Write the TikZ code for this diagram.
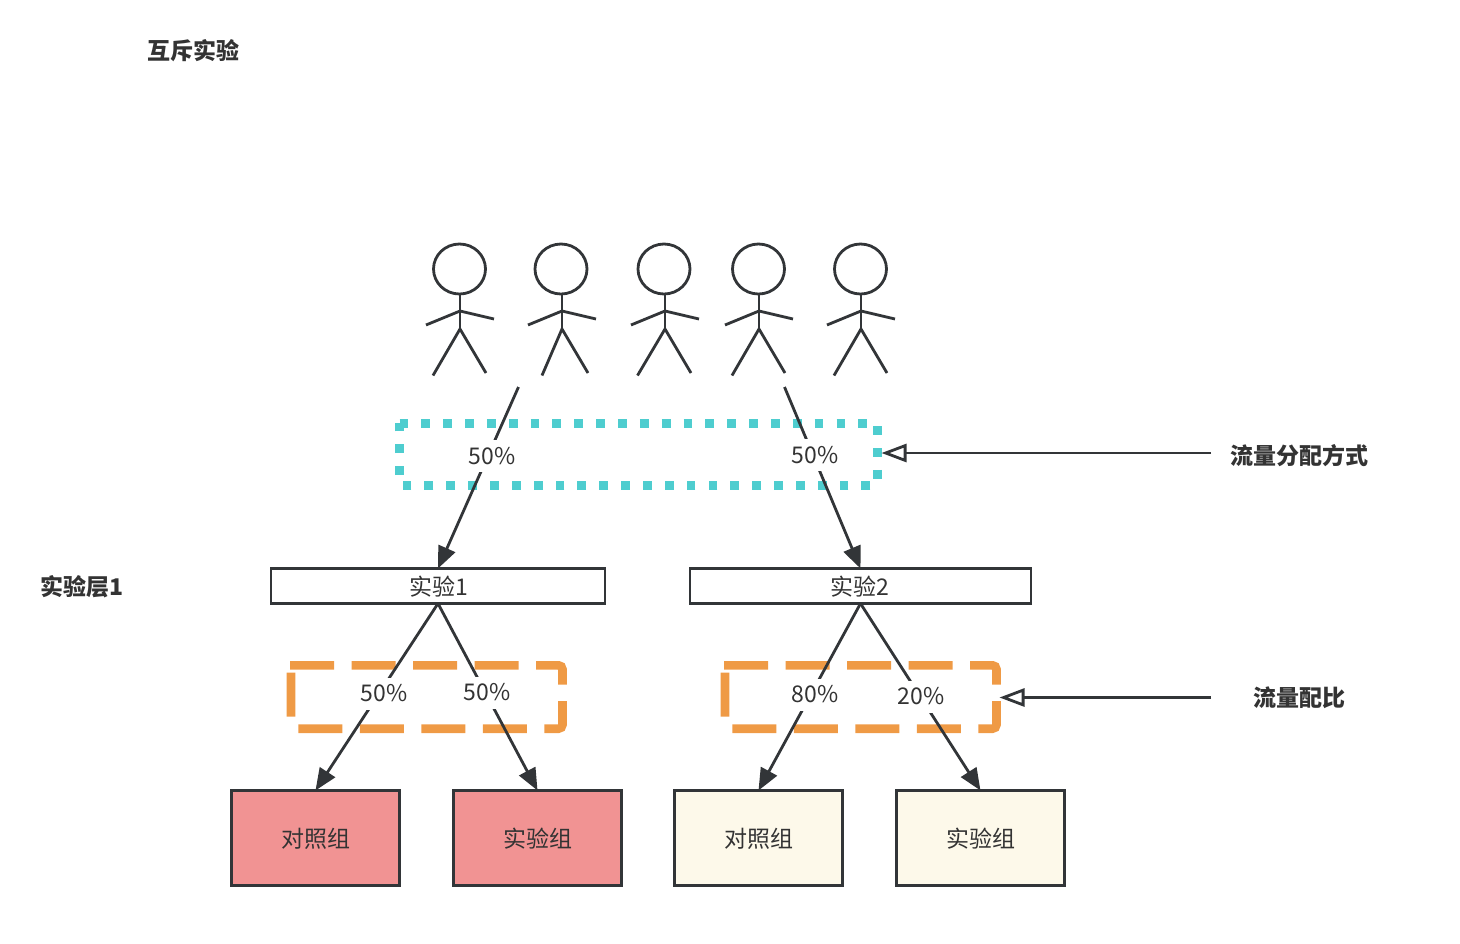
\documentclass[tikz,border=0pt]{standalone}
\usepackage{fontspec}
\setmainfont{Noto Sans CJK SC}
\usetikzlibrary{arrows.meta}
\definecolor{ink}{HTML}{323538}
\definecolor{txt}{HTML}{333333}
\definecolor{cy}{HTML}{4ECDCF}
\definecolor{orng}{HTML}{EF9A45}
\definecolor{redf}{HTML}{F19393}
\definecolor{cream}{HTML}{FDF9EA}
\tikzset{
  every node/.style={inner sep=0pt,outer sep=0pt,text=txt,font=\fontsize{23}{28}\selectfont},
  bar/.style={draw=ink,line width=2.6pt,fill=white,minimum height=35pt},
  groupred/.style={draw=ink,line width=2.6pt,fill=redf,minimum width=168pt,minimum height=95pt},
  groupcream/.style={draw=ink,line width=2.6pt,fill=cream,minimum width=168pt,minimum height=95pt},
  headlabel/.style={font=\fontsize{23}{28}\selectfont\bfseries},
  pct/.style={fill=white,minimum width=48pt,minimum height=32pt},
  arrowline/.style={draw=ink,line width=2.8pt,-{Triangle[length=22pt,width=18pt,fill=ink]}},
  openline/.style={draw=ink,line width=2.8pt,-{Triangle[open,length=25pt,width=18pt,fill=white]}},
  dotbox/.style={draw=cy,line width=9pt,dash pattern=on 8.8pt off 13.05pt},
  dashbox/.style={draw=orng,line width=8.6pt,dash pattern=on 44pt off 17.5pt},
  figline/.style={draw=ink,line width=2.8pt},
}
\newcommand{\stick}[3]{% head x, body x, left foot x
  \draw[figline] (#1,269) ellipse[x radius=26,y radius=25];
  \draw[figline] (#2,295) -- (#2,329);
  \draw[figline] (#2-34,325) -- (#2,311) -- (#2+34,319);
  \draw[figline] (#3,375.5) -- (#2,329) -- (#2+26,373);
}
\begin{document}
\begin{tikzpicture}[x=1pt,y=-1pt]
\useasboundingbox (0,0) rectangle (1460,943);
% dashed frames
\draw[dotbox] (399.5,423) -- (877,423) -- (877,485) -- (399.5,485) -- (399.5,421);
\draw[dashbox] (290,665.3) [rounded corners=4pt] -- (562.5,665.3) -- (562.5,690);
\draw[dashbox] (562.5,701) [rounded corners=4pt] -- (562.5,728.7) -- (291,728.7) [sharp corners] -- (291,660);
\draw[dashbox] (724,665.3) [rounded corners=4pt] -- (996.5,665.3) -- (996.5,690);
\draw[dashbox] (996.5,701) [rounded corners=4pt] -- (996.5,728.7) -- (725,728.7) [sharp corners] -- (725,660);
% people
\stick{459.5}{460}{433}
\stick{561}{562}{542}
\stick{664}{665}{637.5}
\stick{758.5}{759}{732}
\stick{860.5}{861}{834}
% boxes
\node[bar,minimum width=334pt] (expa) at (438,586) {};
\node[bar,minimum width=341pt] (expb) at (860.5,586) {};
\node[groupred] (ga) at (315.5,838) {};
\node[groupred] (gb) at (537.5,838) {};
\node[groupcream] (gc) at (758.5,838) {};
\node[groupcream] (gd) at (980.5,838) {};
% free ends
\coordinate (srca) at (518.5,387);
\coordinate (srcb) at (784.5,387);
\coordinate (tipa) at (881.5,453);
\coordinate (taila) at (1211,453);
\coordinate (tipb) at (999.5,697.5);
\coordinate (tailb) at (1211,697.5);
% connectors
\draw[arrowline] (srca) -- (expa.north);
\draw[arrowline] (srcb) -- (expb.north);
\draw[arrowline] (expa.south) -- (ga.north);
\draw[arrowline] (expa.south) -- (gb.north);
\draw[arrowline] (expb.south) -- (gc.north);
\draw[arrowline] (expb.south) -- (gd.north);
\draw[openline] (taila) -- (tipa);
\draw[openline] (tailb) -- (tipb);
% texts
\node at (438.5,587) {实验1};
\node at (860,587) {实验2};
\node at (315.5,839) {对照组};
\node at (537.5,839) {实验组};
\node at (758.5,839) {对照组};
\node at (980.5,839) {实验组};
\node[pct] (pa) at (492,456) {50\%};
\node[pct] (pb) at (815,455) {50\%};
\node[pct] (pc) at (384,693.5) {50\%};
\node[pct] (pd) at (487,692.5) {50\%};
\node[pct] (pe) at (815,694.5) {80\%};
\node[pct] (pf) at (921,696.5) {20\%};
\node[headlabel] (ta) at (193,50.5) {互斥实验};
\node[headlabel] (tb) at (82.5,587) {实验层1};
\node[headlabel] (tc) at (1299,455.5) {流量分配方式};
\node[headlabel] (td) at (1299,698) {流量配比};
\end{tikzpicture}
\end{document}
